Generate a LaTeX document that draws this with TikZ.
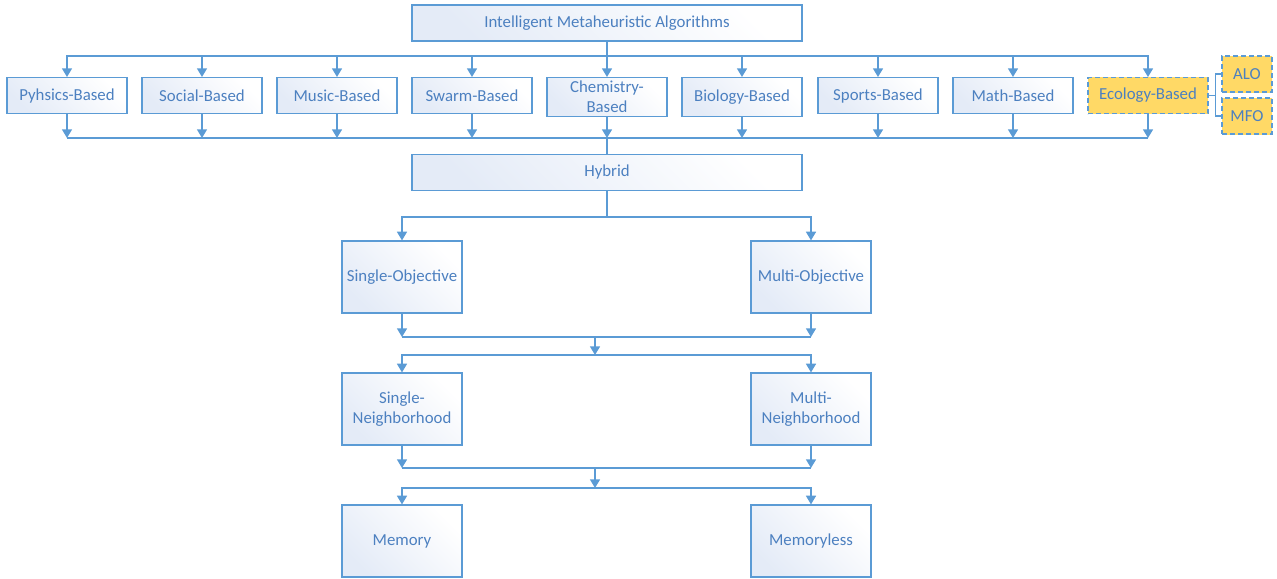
\documentclass[tikz,border=0pt]{standalone}
\usepackage{fontspec}
\setmainfont{Carlito}
\usetikzlibrary{%
    arrows.meta,%
    positioning
    }
\definecolor{lineblue}{RGB}{91,155,213}
\definecolor{textblue}{RGB}{76,128,192}
\definecolor{shadeblue}{RGB}{228,235,247}
\definecolor{ecoyellow}{RGB}{255,217,102}
\tikzset{
  rowbox/.style={
    rectangle,
    anchor=north,
    minimum width=90pt,
    minimum height=27pt,
    inner sep=1pt,
    align=center,
    line width=0.9pt,
    draw=lineblue,
    left color=shadeblue,
    right color=white,
    shading angle=135,
    font=\color{textblue}\fontsize{12.6}{15}\selectfont,
  },
  widebox/.style={
    rowbox,
    anchor=center,
    minimum width=292.5pt,
  },
  tallbox/.style={
    rowbox,
    anchor=center,
    minimum height=54pt,
  },
  ecobox/.style={
    rowbox,
    dash pattern=on 3.75pt off 2.25pt,
    fill=ecoyellow,
    left color=ecoyellow,
    right color=ecoyellow,
  },
  smallbox/.style={
    ecobox,
    anchor=center,
    minimum width=37.5pt,
  },
  arrowline/.style={
    -{Triangle[width=7.5pt,length=6.5pt]},
    lineblue,
    line width=1.1pt,
  },
  busline/.style={
    lineblue,
    line width=1.1pt,
  },
}

\begin{document}
\begin{tikzpicture}[x=0.75pt,y=-0.75pt]
\useasboundingbox (0,0) rectangle (1277,578);

% top
\node[widebox] (ima) at (607,23) {Intelligent Metaheuristic Algorithms};

% first row
\node[rowbox] (phys) at (67,77) {Pyhsics-Based};
\node[rowbox] (soc) at (202,77) {Social-Based};
\node[rowbox] (mus) at (337,77) {Music-Based};
\node[rowbox] (swa) at (472,77) {Swarm-Based};
\node[rowbox,minimum height=29.25pt] (chem) at (607,77) {Chemistry-\\Based};
\node[rowbox,minimum height=29.25pt] (bio) at (742,77) {Biology-Based};
\node[rowbox] (spo) at (878,77) {Sports-Based};
\node[rowbox] (math) at (1013,77) {Math-Based};
\node[ecobox] (eco) at (1148,77) {Ecology-Based};
\node[smallbox] (alo) at (1247,74) {ALO};
\node[smallbox] (mfo) at (1247,116) {MFO};

\node[widebox] (hyb) at (607,172.5) {Hybrid};

\node[tallbox] (sobj) at (402,277) {Single-Objective};
\node[tallbox] (mobj) at (811,277) {Multi-Objective};
\node[tallbox] (snei) at (402,409) {Single-\\Neighborhood};
\node[tallbox] (mnei) at (811,409) {Multi-\\Neighborhood};
\node[tallbox] (mem) at (402,541) {Memory};
\node[tallbox] (meml) at (811,541) {Memoryless};

% bus points
\coordinate (bus1) at (607,56);
\coordinate (bus2) at (607,138);
\coordinate (bus3) at (607,217);
\coordinate (bus4) at (595,337);
\coordinate (bus5) at (595,355);
\coordinate (bus6) at (595,468);
\coordinate (bus7) at (595,488);

\draw[busline] (phys.south|-bus2) -- (eco.south|-bus2);
\draw[busline] (bus2) -- (hyb.north);
\draw[busline] (sobj.south|-bus4) -- (mobj.south|-bus4);
\draw[busline] (snei.south|-bus6) -- (mnei.south|-bus6);
\draw[busline] (eco.east) -- ++(7,0) |- (alo.west);
\draw[busline] (eco.east) -- ++(7,0) |- (mfo.west);

\begin{scope}[arrowline]
\foreach \n in {phys,soc,mus,swa,chem,bio,spo,math,eco}{
  \draw (ima.south) -- (bus1) -| (\n.north);
  \draw (\n.south) -- (\n.south|-bus2);
}
\draw (hyb.south) -- (bus3) -| (sobj.north);
\draw (hyb.south) -- (bus3) -| (mobj.north);
\draw (sobj.south) -- (sobj.south|-bus4);
\draw (mobj.south) -- (mobj.south|-bus4);
\draw (bus4) -- (bus5);
\draw (bus5) -| (snei.north);
\draw (bus5) -| (mnei.north);
\draw (snei.south) -- (snei.south|-bus6);
\draw (mnei.south) -- (mnei.south|-bus6);
\draw (bus6) -- (bus7);
\draw (bus7) -| (mem.north);
\draw (bus7) -| (meml.north);
\end{scope}
\end{tikzpicture}
\end{document}
